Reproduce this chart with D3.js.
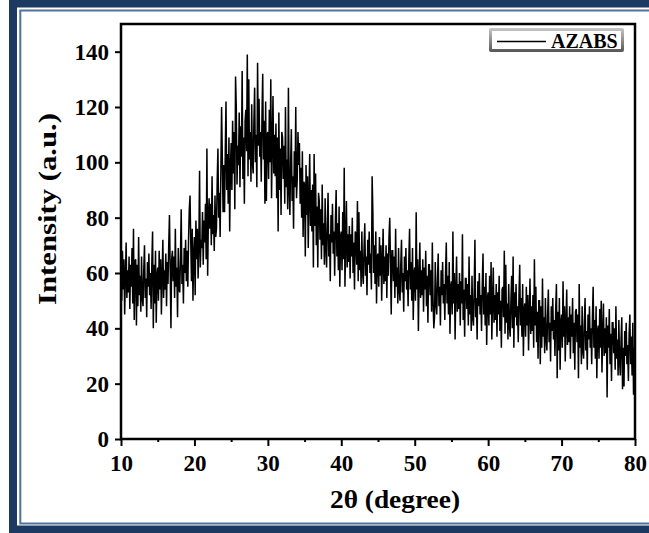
<!DOCTYPE html>
<html>
<head>
<meta charset="utf-8">
<script src="https://cdn.jsdelivr.net/npm/d3@7"></script>
<style>
body{margin:0;background:#fff;}
svg{display:block;font-family:"Liberation Serif","Times New Roman",serif;font-weight:bold;}
</style>
</head>
<body>
<div id="chart"></div>
<script>
// scan grid (2theta, degree)
var startAngle = 10, stepAngle = 0.1;
var xTicks = [10, 20, 30, 40, 50, 60, 70, 80];
var xMinorTicks = [15, 25, 35, 45, 55, 65, 75];
var yTicks = [0, 20, 40, 60, 80, 100, 120, 140];
var seriesName = "AZABS";
// intensity, one row per degree (10 points), 10 -> 80
var intensity = [
  62,50,68,54,65,45,59,71,51,61,
  53,66,47,63,55,69,49,76,43,64,
  65,41,63,48,73,52,59,46,66,51,
  48,61,70,51,58,44,64,55,67,52,
  60,47,64,75,40,63,49,68,42,59,
  62,50,68,54,65,45,59,72,51,61,
  54,67,48,64,56,70,81,61,40,65,
  68,57,66,51,76,55,62,44,69,54,
  53,66,83,56,63,49,69,60,72,57,
  68,55,72,83,88,71,57,76,50,67,
  73,52,79,65,76,58,70,97,62,72,
  69,82,63,79,71,85,65,105,59,80,
  87,76,85,70,95,74,81,68,88,73,
  76,93,105,80,89,73,97,120,101,82,
  99,82,104,122,90,103,85,109,75,98,
  107,90,115,96,111,83,131,120,92,106,
  99,118,91,113,102,133,94,109,85,115,
  119,104,139,95,130,101,111,93,121,100,
  96,115,127,100,110,91,136,106,123,102,
  111,93,117,132,101,115,85,122,86,110,
  111,94,119,100,130,87,107,124,96,110,
  95,114,87,109,75,118,90,105,81,111,
  109,94,106,85,120,91,101,83,127,90,
  81,100,112,86,95,76,104,91,120,87,
  94,111,99,107,85,98,80,104,73,93,
  92,66,99,81,95,69,88,103,77,90,
  75,92,62,103,77,96,70,84,62,89,
  86,72,83,65,92,70,78,63,87,69,
  62,78,89,66,74,57,81,71,85,67,
  75,59,79,90,66,78,61,84,55,73,
  75,61,82,65,98,55,71,86,62,74,
  64,77,58,74,66,80,60,71,54,75,
  74,63,86,57,82,61,68,55,75,60,
  56,69,78,59,66,52,72,63,75,60,
  67,54,95,82,60,70,56,75,49,66,
  67,55,73,59,70,50,64,76,56,66,
  57,70,51,67,59,73,80,64,45,68,
  68,57,66,51,76,55,62,49,69,54,
  50,63,72,53,60,46,66,57,69,54,
  61,48,65,76,54,64,50,69,43,60,
  62,50,82,54,65,39,59,71,51,61,
  52,65,46,62,54,68,48,59,42,63,
  63,52,61,46,71,50,40,44,64,49,
  45,58,67,48,55,41,61,52,64,49,
  56,43,60,71,49,59,45,64,38,55,
  57,45,75,49,60,36,54,66,46,56,
  47,60,41,57,49,74,43,54,37,58,
  58,47,56,41,66,45,52,39,59,44,
  41,54,72,44,51,36,57,48,60,45,
  52,39,56,67,45,55,41,60,34,51,
  53,41,59,45,64,36,50,62,42,52,
  43,56,37,53,45,59,39,50,33,54,
  55,44,68,38,63,42,49,36,56,41,
  37,50,59,40,66,33,53,44,56,41,
  48,35,52,63,41,51,37,56,30,47,
  49,37,55,41,52,32,46,58,38,48,
  39,52,33,65,41,55,35,46,29,50,
  50,27,48,33,58,37,44,31,51,36,
  32,45,54,35,42,28,48,39,51,36,
  43,30,47,56,22,46,32,51,25,42,
  45,33,57,37,48,28,42,54,34,44,
  35,48,29,45,37,51,31,42,25,46,
  47,35,45,22,56,33,41,27,48,32,
  29,42,51,32,39,25,45,36,48,33,
  40,27,44,55,33,43,29,48,22,39,
  41,29,47,33,50,24,38,49,30,40,
  31,44,15,41,33,47,27,38,21,42,
  42,31,40,25,48,29,36,23,43,28,
  23,36,44,18,33,19,39,30,42,27,
  34,21,38,45,27,37,23,42,16,33,
  22
];

var W = 649, H = 533;
var margin = {top: 24, right: 14, bottom: 94, left: 121};
var width = W - margin.left - margin.right;
var height = H - margin.top - margin.bottom;
var serif = '"Liberation Serif", "Times New Roman", serif';

var svg = d3.select("#chart").append("svg")
  .attr("width", W)
  .attr("height", H);

// page frame: thick navy band + thin inner line
svg.append("rect")
  .attr("x", 13).attr("y", 3.5)
  .attr("width", 720).attr("height", 526)
  .attr("fill", "none")
  .attr("stroke", "#1c3961")
  .attr("stroke-width", 8);
svg.append("rect")
  .attr("x", 20.3).attr("y", 10.5)
  .attr("width", 720).attr("height", 513)
  .attr("fill", "none")
  .attr("stroke", "#4f719b")
  .attr("stroke-width", 2);

var x = d3.scaleLinear().domain([10, 80]).range([0, width]);
var y = d3.scaleLinear().domain([0, 150]).range([height, 0]);

var plot = svg.append("g")
  .attr("transform", `translate(${margin.left},${margin.top})`);

plot.append("clipPath").attr("id", "clip")
  .append("rect").attr("width", width).attr("height", height);

// the pattern
var line = d3.line()
  .x((d, i) => x(startAngle + i * stepAngle))
  .y(d => y(d));
plot.append("path")
  .datum(intensity)
  .attr("clip-path", "url(#clip)")
  .attr("fill", "none")
  .attr("stroke", "#000")
  .attr("stroke-width", 1.5)
  .attr("stroke-linejoin", "miter")
  .attr("d", line);

// axes
var xAxis = plot.append("g")
  .attr("transform", `translate(0,${height})`)
  .call(d3.axisBottom(x).tickValues(xTicks).tickSize(7).tickFormat(d3.format("d")));
plot.append("g")
  .attr("transform", `translate(0,${height})`)
  .call(d3.axisBottom(x).tickValues(xMinorTicks).tickSize(3).tickFormat(""));
var yAxis = plot.append("g")
  .call(d3.axisLeft(y).tickValues(yTicks).tickSize(6).tickFormat(d3.format("d")));

plot.selectAll(".domain").remove();
plot.selectAll(".tick line").attr("stroke", "#000").attr("stroke-width", 2);
xAxis.selectAll("text")
  .attr("y", 32).attr("dy", 0)
  .attr("fill", "#000")
  .style("font-family", serif)
  .style("font-size", "23px")
  .style("font-weight", "bold");
yAxis.selectAll("text")
  .attr("x", -12).attr("dy", "0.33em")
  .attr("fill", "#000")
  .style("font-family", serif)
  .style("font-size", "23px")
  .style("font-weight", "bold");

// frame
plot.append("rect")
  .attr("width", width).attr("height", height)
  .attr("fill", "none")
  .attr("stroke", "#000")
  .attr("stroke-width", 2.5);

// axis titles
svg.append("text")
  .attr("x", 395).attr("y", 508)
  .attr("text-anchor", "middle")
  .attr("font-size", 25)
  .attr("textLength", 130)
  .attr("lengthAdjust", "spacingAndGlyphs")
  .text("2θ (degree)");
svg.append("text")
  .attr("transform", "translate(56,209) rotate(-90)")
  .attr("text-anchor", "middle")
  .attr("font-size", 26)
  .attr("textLength", 192)
  .attr("lengthAdjust", "spacingAndGlyphs")
  .text("Intensity (a.u.)");

// legend
var defs = svg.append("defs");
var grad = defs.append("linearGradient").attr("id", "legBorder")
  .attr("x1", 0).attr("y1", 0).attr("x2", 0).attr("y2", 1);
grad.append("stop").attr("offset", "0%").attr("stop-color", "#c8c8c8");
grad.append("stop").attr("offset", "100%").attr("stop-color", "#555");
var leg = svg.append("g").attr("transform", "translate(489,28)");
leg.append("rect")
  .attr("width", 135).attr("height", 24).attr("rx", 2)
  .attr("fill", "url(#legBorder)");
leg.append("rect")
  .attr("x", 3).attr("y", 3)
  .attr("width", 129).attr("height", 18)
  .attr("fill", "#fff");
leg.append("line")
  .attr("x1", 8).attr("x2", 57)
  .attr("y1", 13.5).attr("y2", 13.5)
  .attr("stroke", "#000").attr("stroke-width", 1.5);
leg.append("text")
  .attr("x", 62).attr("y", 20)
  .attr("font-size", 20)
  .text(seriesName);
</script>
</body>
</html>
